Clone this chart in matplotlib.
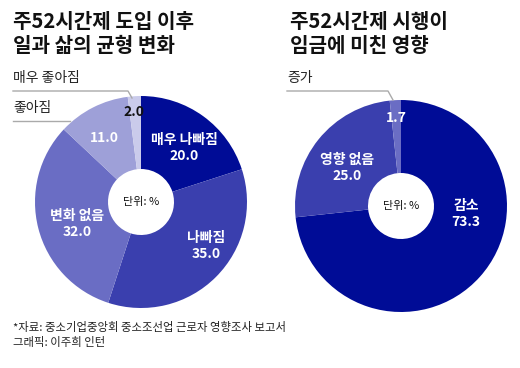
import matplotlib
matplotlib.use("Agg")
import matplotlib.pyplot as plt

plt.rcParams['font.family'] = ['Noto Sans CJK KR', 'DejaVu Sans']

# Data
left_title = "주52시간제 도입 이후\n일과 삶의 균형 변화"
left_labels = ["매우 나빠짐", "나빠짐", "변화 없음", "좋아짐", "매우 좋아짐"]
left_values = [20.0, 35.0, 32.0, 11.0, 2.0]
left_colors = ["#000c96", "#3a3fae", "#6a6dc4", "#9ea0d8", "#cacbeb"]

right_title = "주52시간제 시행이\n임금에 미친 영향"
right_labels = ["감소", "영향 없음", "증가"]
right_values = [73.3, 25.0, 1.7]
right_colors = ["#000c96", "#3a3fae", "#6a6dc4"]

source = "*자료: 중소기업중앙회 중소조선업 근로자 영향조사 보고서\n그래픽: 이주희 인턴"

W, H = 520, 368
fig = plt.figure(figsize=(W / 100, H / 100), dpi=100)
ax = fig.add_axes([0, 0, 1, 1])

def Y(y):
    return H - y

R, r = 106, 33
lc = (141, 202)
rc = (401, 206)

ax.pie(left_values, colors=left_colors, startangle=90, counterclock=False,
       center=(lc[0], Y(lc[1])), radius=R,
       wedgeprops=dict(width=R - r, linewidth=0), frame=True)
ax.pie(right_values, colors=right_colors, startangle=90, counterclock=False,
       center=(rc[0], Y(rc[1])), radius=R,
       wedgeprops=dict(width=R - r, linewidth=0), frame=True)
ax.set_xlim(0, W)
ax.set_ylim(0, H)
ax.set_aspect('equal')
ax.axis('off')

# Titles
ax.text(13, Y(11), left_title, fontsize=14.5, fontweight='bold', va='top',
        ha='left', linespacing=1.15, color='#111111')
ax.text(290, Y(11), right_title, fontsize=14.5, fontweight='bold', va='top',
        ha='left', linespacing=1.15, color='#111111')

# Center unit labels
for c in (lc, rc):
    ax.text(c[0], Y(c[1]), "단위: %", fontsize=8, ha='center', va='center', color='#111111')

white = dict(color='white', fontweight='bold', fontsize=10, ha='center', va='center')

def lab(x, y, name, val, **kw):
    txt = f"{name}\n{val:.1f}" if name else f"{val:.1f}"
    d = dict(white)
    d.update(kw)
    ax.text(x, Y(y), txt, linespacing=1.25, **d)

lab(184, 148, left_labels[0], left_values[0])
lab(206, 246, left_labels[1], left_values[1])
lab(77, 224, left_labels[2], left_values[2])
lab(104, 138, None, left_values[3])
lab(134, 112, None, left_values[4], color='#111111')

lab(466, 214, right_labels[0], right_values[0])
lab(347, 168, right_labels[1], right_values[1])
lab(396, 118, None, right_values[2])

# Outside labels with leader lines
lc_gray = '#aaaaaa'
ax.text(13, Y(78), left_labels[4], fontsize=10, ha='left', va='center', color='#222222')
ax.plot([13, 128, 132], [Y(91), Y(91), Y(98)], color=lc_gray, lw=1)
ax.text(13, Y(108), left_labels[3], fontsize=10, ha='left', va='center', color='#222222')
ax.plot([13, 70], [Y(121), Y(121)], color=lc_gray, lw=1)
ax.text(287, Y(78), right_labels[2], fontsize=10, ha='left', va='center', color='#222222')
ax.plot([287, 388, 393], [Y(91), Y(91), Y(100)], color=lc_gray, lw=1)

# Source
ax.text(13, Y(322), source, fontsize=8.2, ha='left', va='top', linespacing=1.4, color='#222222')

fig.savefig("out.png", dpi=100)
